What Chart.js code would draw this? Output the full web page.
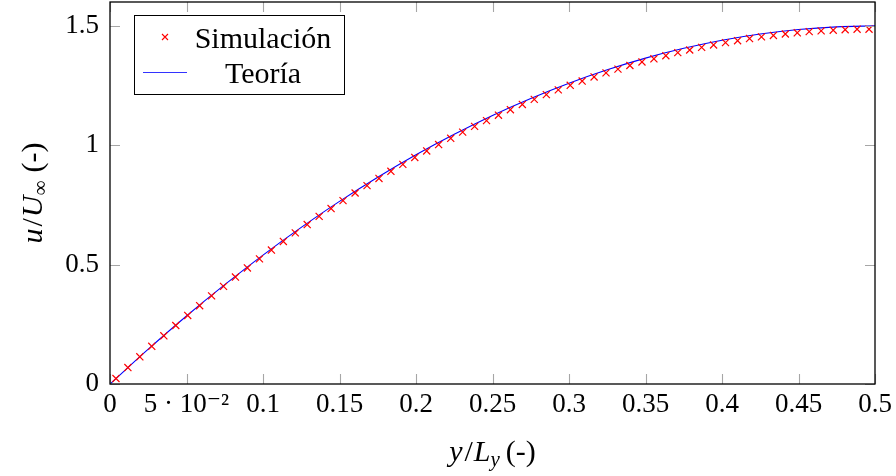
<!DOCTYPE html>
<html><head><meta charset="utf-8">
<script src="https://cdn.jsdelivr.net/npm/chart.js@4.4.1/dist/chart.umd.min.js"></script>
<style>html,body{margin:0;padding:0;background:#fff;}#wrap{width:896px;height:476px;}</style>
</head><body><div id="wrap"><canvas id="c" width="896" height="476"></canvas></div>
<script>
// ---- data ----
const simX = [0.0039,0.0117,0.0195,0.0273,0.0352,0.0430,0.0508,0.0586,0.0664,0.0742,0.0820,0.0898,0.0977,0.1055,0.1133,0.1211,
  0.1289,0.1367,0.1445,0.1523,0.1602,0.1680,0.1758,0.1836,0.1914,0.1992,0.2070,0.2148,0.2227,0.2305,0.2383,0.2461,
  0.2539,0.2617,0.2695,0.2773,0.2852,0.2930,0.3008,0.3086,0.3164,0.3242,0.3320,0.3398,0.3477,0.3555,0.3633,0.3711,
  0.3789,0.3867,0.3945,0.4023,0.4102,0.4180,0.4258,0.4336,0.4414,0.4492,0.4570,0.4648,0.4727,0.4805,0.4883,0.4961];
const simU = [0.023,0.069,0.114,0.158,0.202,0.245,0.287,0.328,0.369,0.409,0.448,0.486,0.524,0.561,0.597,0.633,
  0.668,0.702,0.735,0.768,0.800,0.831,0.861,0.891,0.920,0.949,0.976,1.003,1.029,1.055,1.079,1.103,
  1.126,1.149,1.171,1.192,1.212,1.232,1.251,1.269,1.286,1.303,1.319,1.334,1.349,1.362,1.375,1.388,
  1.399,1.410,1.420,1.430,1.438,1.447,1.454,1.460,1.466,1.471,1.476,1.479,1.482,1.484,1.486,1.486];
const theoryX = [0,0.025,0.05,0.075,0.1,0.125,0.15,0.175,0.2,0.225,0.25,0.275,0.3,0.325,0.35,0.375,0.4,0.425,0.45,0.475,0.5];
const theoryU = [0,0.146,0.285,0.416,0.540,0.656,0.765,0.866,0.960,1.046,1.125,1.196,1.260,1.316,1.365,1.406,1.440,1.466,1.485,1.496,1.500];
const xTicks = [0,0.05,0.1,0.15,0.2,0.25,0.3,0.35,0.4,0.45,0.5];
const xTickLabels = ['0','5 · 10⁻²','0.1','0.15','0.2','0.25','0.3','0.35','0.4','0.45','0.5'];
const yTicks = [0,0.5,1,1.5];
const yTickLabels = ['0','0.5','1','1.5'];
const seriesNames = ['Simulación','Teoría'];

const FONT = '"Liberation Serif", "DejaVu Serif", serif';
const FS = 27;    // tick labels
const LFS = 30;   // legend / titles

function drawPieces(ctx, pieces, x, y) {
  let total = 0;
  for (const p of pieces) { ctx.font = (p[1]?'italic ':'') + p[2] + 'px ' + FONT; total += ctx.measureText(p[0]).width + (p[4]||0); }
  let cx = x - total/2;
  for (const p of pieces) {
    ctx.font = (p[1]?'italic ':'') + p[2] + 'px ' + FONT;
    ctx.fillText(p[0], cx, y + (p[3]||0));
    cx += ctx.measureText(p[0]).width + (p[4]||0);
  }
}

const framePlugin = {
  id: 'frame',
  afterDraw(chart) {
    const {ctx, chartArea: a, scales: {x, y}} = chart;
    ctx.save();
    ctx.strokeStyle = '#a6a6a6'; ctx.lineWidth = 1.1;
    const TL = 10;
    for (const v of xTicks) {
      const px = Math.round(x.getPixelForValue(v)) + 0.5;
      ctx.beginPath(); ctx.moveTo(px, a.bottom); ctx.lineTo(px, a.bottom - TL);
      ctx.moveTo(px, a.top); ctx.lineTo(px, a.top + TL); ctx.stroke();
    }
    for (const v of yTicks) {
      const py = Math.round(y.getPixelForValue(v)) + 0.5;
      ctx.beginPath(); ctx.moveTo(a.left, py); ctx.lineTo(a.left + TL, py);
      ctx.moveTo(a.right, py); ctx.lineTo(a.right - TL, py); ctx.stroke();
    }
    ctx.strokeStyle = '#000'; ctx.lineWidth = 1.3;
    ctx.strokeRect(a.left, a.top, a.right - a.left, a.bottom - a.top);

    const lx = a.left + 24, ly = a.top + 13, lw = 210, lh = 79;
    ctx.fillStyle = '#fff'; ctx.fillRect(lx, ly, lw, lh);
    ctx.strokeStyle = '#000'; ctx.lineWidth = 1; ctx.strokeRect(lx + 0.5, ly + 0.5, lw, lh);
    const r1 = ly + 22, r2 = ly + 57;
    ctx.strokeStyle = '#ff0000'; ctx.lineWidth = 1.1;
    const mx = lx + 31, s = 3;
    ctx.beginPath(); ctx.moveTo(mx - s, r1 - s); ctx.lineTo(mx + s, r1 + s);
    ctx.moveTo(mx + s, r1 - s); ctx.lineTo(mx - s, r1 + s); ctx.stroke();
    ctx.strokeStyle = '#3333ff'; ctx.lineWidth = 1.1;
    ctx.beginPath(); ctx.moveTo(lx + 9, r2 + 0.5); ctx.lineTo(lx + 53, r2 + 0.5); ctx.stroke();
    ctx.fillStyle = '#000'; ctx.font = LFS + 'px ' + FONT; ctx.textAlign = 'center'; ctx.textBaseline = 'alphabetic';
    ctx.fillText(seriesNames[0], lx + 129, r1 + 11);
    ctx.fillText(seriesNames[1], lx + 129, r2 + 11);

    ctx.textAlign = 'left'; ctx.textBaseline = 'alphabetic';
    const xc = (a.left + a.right) / 2;
    drawPieces(ctx, [['y', true, LFS, 0, 2], ['/', false, LFS, 0, 1], ['L', true, LFS, 0, 0], ['y', true, 21, 5, 6], ['(-)', false, LFS, 0, 0]], xc, 461);
    ctx.translate(42, (a.top + a.bottom) / 2);
    ctx.rotate(-Math.PI / 2);
    drawPieces(ctx, [['u', true, LFS, 0, 2], ['/', false, LFS, 0, 1], ['U', true, LFS, 0, 0], ['∞', false, 21, 5, 8], ['(-)', false, LFS, 0, 0]], 0, 0);
    ctx.restore();
  }
};

new Chart(document.getElementById('c'), {
  type: 'scatter',
  data: {
    datasets: [
      { label: seriesNames[0], data: simX.map((v, i) => ({x: v, y: simU[i]})),
        showLine: false, pointStyle: 'crossRot', pointRadius: 5, borderColor: '#ff0000', backgroundColor: '#ff0000', borderWidth: 1.2, order: 1 },
      { label: seriesNames[1], data: theoryX.map((v, i) => ({x: v, y: theoryU[i]})),
        showLine: true, pointRadius: 0, borderColor: '#0000ff', borderWidth: 1.1, cubicInterpolationMode: 'monotone', order: 2 }
    ]
  },
  options: {
    responsive: false, animation: false, devicePixelRatio: 1,
    layout: { autoPadding: false, padding: { left: 0, right: 21, top: 2, bottom: 0 } },
    plugins: { legend: { display: false }, tooltip: { enabled: false } },
    scales: {
      x: { type: 'linear', min: 0, max: 0.5,
        afterBuildTicks: s => { s.ticks = xTicks.map(v => ({value: v})); },
        afterFit: s => { s.height = 92; s.paddingLeft = 0; s.paddingRight = 0; },
        grid: { display: false, drawTicks: false }, border: { display: false },
        ticks: { autoSkip: false, maxRotation: 0, padding: 5, color: '#000', font: { family: FONT, size: FS },
          callback: (v, i) => xTickLabels[i] } },
      y: { type: 'linear', min: 0, max: 1.6,
        afterBuildTicks: s => { s.ticks = yTicks.map(v => ({value: v})); },
        afterFit: s => { s.width = 110; s.paddingTop = 0; s.paddingBottom = 0; },
        grid: { display: false, drawTicks: false }, border: { display: false },
        ticks: { padding: 11, color: '#000', font: { family: FONT, size: FS },
          callback: (v, i) => yTickLabels[i] } }
    }
  },
  plugins: [framePlugin]
});
</script></body></html>
